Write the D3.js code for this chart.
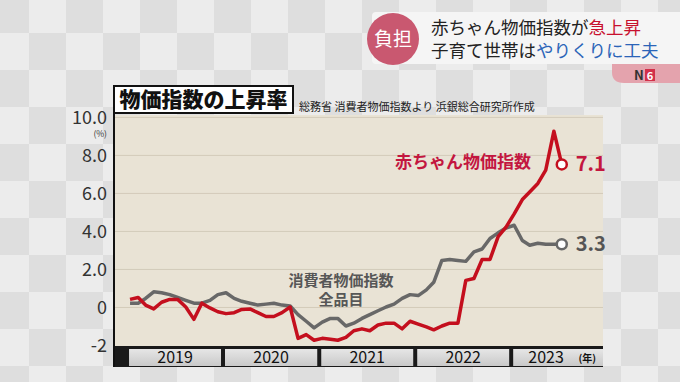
<!DOCTYPE html>
<html>
<head>
<meta charset="utf-8">
<script src="https://cdn.jsdelivr.net/npm/d3@7"></script>
<style>
  body { margin: 0; background: #e9e9e9; }
  text { font-family: "Noto Sans CJK JP", sans-serif; }
</style>
</head>
<body>
<script>
// year-over-year change (%), monthly from 2019-01 to 2023-07
const babyCpi = [
  0.4, 0.5, 0.1, -0.1, 0.25, 0.4, 0.4, 0.0, -0.65, 0.2, -0.05, -0.25,
  -0.35, -0.3, -0.13, -0.1, -0.3, -0.5, -0.5, -0.3, 0.0, -1.65, -1.45, -1.75,
  -1.65, -1.7, -1.75, -1.6, -1.25, -1.15, -1.25, -0.95, -0.85, -0.85, -1.15, -0.75,
  -0.9, -1.05, -1.2, -1.0, -0.85, -0.85, 1.4, 1.5, 2.5, 2.5, 3.7, 4.2,
  4.9, 5.65, 6.05, 6.5, 7.2, 9.25, 7.5
]
const allCpi = [
  0.2, 0.2, 0.45, 0.8, 0.75, 0.65, 0.5, 0.35, 0.2, 0.2, 0.35, 0.65,
  0.75, 0.45, 0.3, 0.2, 0.1, 0.15, 0.2, 0.1, 0.05, -0.4, -0.75, -1.1,
  -0.8, -0.6, -0.6, -1.0, -0.85, -0.6, -0.4, -0.2, 0.0, 0.15, 0.45, 0.65,
  0.6, 0.9, 1.3, 2.45, 2.5, 2.45, 2.4, 2.9, 3.05, 3.6, 3.9, 4.15,
  4.3, 3.5, 3.25, 3.35, 3.3, 3.3, 3.3
]
const years = [2019, 2020, 2021, 2022, 2023]
const yTicks = [-2, 0, 2, 4, 6, 8, 10]
const endLabels = ['7.1', '3.3']

const months = d3.timeMonth.range(new Date(2019, 0, 1), new Date(2019, 0 + babyCpi.length, 1))

const W = 680, H = 382
const plot = { left: 114, right: 603, top: 115, bottom: 346 }

const svg = d3.select('body').append('svg')
  .attr('width', W).attr('height', H)

// checker background
const defs = svg.append('defs')
const pat = defs.append('pattern')
  .attr('id', 'checker').attr('patternUnits', 'userSpaceOnUse')
  .attr('width', 74).attr('height', 74).attr('x', -8).attr('y', -4)
pat.append('rect').attr('width', 74).attr('height', 74).attr('fill', '#ececec')
pat.append('rect').attr('width', 37).attr('height', 37).attr('fill', '#dedede')
pat.append('rect').attr('x', 37).attr('y', 37).attr('width', 37).attr('height', 37).attr('fill', '#dedede')
svg.append('rect').attr('width', W).attr('height', H).attr('fill', 'url(#checker)')

// headline banner
const banner = svg.append('g')
banner.append('rect').attr('x', 372).attr('y', 12).attr('width', 320).attr('height', 52)
  .attr('rx', 4).attr('fill', '#f6f6f6').attr('opacity', 0.95)
banner.append('circle').attr('cx', 393).attr('cy', 39).attr('r', 26).attr('fill', '#c95870')
banner.append('text').attr('x', 393).attr('y', 46).attr('text-anchor', 'middle')
  .attr('fill', '#fff').attr('font-size', 19).text('負担')
const l1 = banner.append('text').attr('x', 431).attr('y', 34).attr('font-size', 17.5).attr('fill', '#222')
l1.append('tspan').text('赤ちゃん物価指数が')
l1.append('tspan').attr('fill', '#c8102e').text('急上昇')
const l2 = banner.append('text').attr('x', 431).attr('y', 57).attr('font-size', 17.5).attr('fill', '#222')
l2.append('tspan').text('子育て世帯は')
l2.append('tspan').attr('fill', '#2b64b8').text('やりくりに工夫')

// N6 tab
banner.append('path').attr('d', 'M612,64 L680,64 L680,83 L624,83 Q612,83 612,72 Z').attr('fill', '#e4a3ad')
banner.append('text').attr('x', 634).attr('y', 80).attr('font-size', 13).attr('font-weight', 700)
  .attr('fill', '#333').text('N')
banner.append('rect').attr('x', 645).attr('y', 69).attr('width', 10).attr('height', 12).attr('fill', '#d2304a')
banner.append('text').attr('x', 650).attr('y', 80).attr('text-anchor', 'middle').attr('font-size', 11)
  .attr('font-weight', 700).attr('fill', '#fff').text('6')

// scales
const x = d3.scaleTime()
  .domain([new Date(2018, 10, 1), new Date(2023, 11, 1)])
  .range([plot.left, plot.right - 1])
const y = d3.scaleLinear().domain([-2, 10.1]).range([345, 115])

// plot background
svg.append('rect').attr('x', plot.left).attr('y', plot.top)
  .attr('width', plot.right - plot.left).attr('height', plot.bottom - plot.top)
  .attr('fill', '#e9e3d5')

// grid
svg.append('g')
  .attr('transform', `translate(${plot.left},0)`)
  .call(d3.axisLeft(y).tickValues(yTicks.filter(v => v > -2)).tickSize(-(plot.right - plot.left)).tickFormat(''))
  .call(g => g.select('.domain').remove())
  .call(g => g.selectAll('line').attr('stroke', '#d3cbba').attr('stroke-width', 1))

// y labels
svg.append('g')
  .attr('transform', `translate(${plot.left - 7},0)`)
  .call(d3.axisLeft(y).tickValues(yTicks).tickSize(0).tickPadding(0)
    .tickFormat(v => v <= 0 ? String(v) : v.toFixed(1)))
  .call(g => g.select('.domain').remove())
  .call(g => g.selectAll('text')
    .attr('font-family', '"Liberation Sans Narrow", "Roboto", sans-serif')
    .attr('font-size', 18).attr('fill', '#333').attr('dy', '0.34em'))
svg.append('text').attr('x', plot.left - 7).attr('y', 137).attr('text-anchor', 'end')
  .attr('font-size', 8.5).attr('fill', '#333').text('(%)')

// year bar
const bar = svg.append('g')
bar.append('rect').attr('x', plot.left).attr('y', plot.bottom).attr('width', plot.right - plot.left)
  .attr('height', 21).attr('fill', '#1a1a1a')
const grad = defs.append('linearGradient').attr('id', 'yearGrad').attr('x1', 0).attr('x2', 0).attr('y1', 0).attr('y2', 1)
grad.append('stop').attr('offset', 0).attr('stop-color', '#e6e6e6')
grad.append('stop').attr('offset', 1).attr('stop-color', '#c9c9c9')
years.forEach(yr => {
  const x0 = x(new Date(yr, 0, 1)) - 1
  const x1 = Math.min(x(new Date(yr + 1, 0, 1)) - 5, plot.right)
  bar.append('rect').attr('x', x0).attr('y', plot.bottom + 3).attr('width', x1 - x0).attr('height', 17)
    .attr('fill', 'url(#yearGrad)')
  const last = yr === years[years.length - 1]
  bar.append('text').attr('x', (x0 + x1) / 2 - (last ? 12 : 0)).attr('y', plot.bottom + 17)
    .attr('text-anchor', 'middle').attr('font-family', '"Liberation Sans", sans-serif')
    .attr('font-size', 16).attr('fill', '#111').text(yr)
  if (last) {
    bar.append('text').attr('x', x1 - 7).attr('y', plot.bottom + 16).attr('text-anchor', 'end')
      .attr('font-size', 10).attr('font-weight', 700).attr('fill', '#111').text('(年)')
  }
})

// y axis line
svg.append('line').attr('x1', plot.left).attr('x2', plot.left).attr('y1', 100).attr('y2', 367)
  .attr('stroke', '#111').attr('stroke-width', 2)

// lines
const line = d3.line().x((d, i) => x(months[i])).y(d => y(d))
const series = [
  { data: allCpi, color: '#686868', label: endLabels[1], labelColor: '#555' },
  { data: babyCpi, color: '#c40f1e', label: endLabels[0], labelColor: '#c3163f' }
]
series.forEach(s => {
  svg.append('path').datum(s.data).attr('d', line).attr('fill', 'none')
    .attr('stroke', s.color).attr('stroke-width', 3.5).attr('stroke-linejoin', 'round')
  const n = s.data.length - 1
  svg.append('circle').attr('cx', x(months[n])).attr('cy', y(s.data[n])).attr('r', 5)
    .attr('fill', '#fff').attr('stroke', s.color).attr('stroke-width', 2.5)
  svg.append('text').attr('x', x(months[n]) + 14).attr('y', y(s.data[n]) + 7)
    .attr('font-family', 'Roboto, sans-serif').attr('font-weight', 700).attr('font-size', 20)
    .attr('fill', s.labelColor).text(s.label)
})

// annotations
svg.append('text').attr('x', 395).attr('y', 168).attr('font-size', 17).attr('font-weight', 700)
  .attr('fill', '#c3163f').text('赤ちゃん物価指数')
svg.append('text').attr('x', 341).attr('y', 286).attr('text-anchor', 'middle').attr('font-size', 15)
  .attr('font-weight', 700).attr('fill', '#575757').text('消費者物価指数')
svg.append('text').attr('x', 341).attr('y', 305).attr('text-anchor', 'middle').attr('font-size', 15)
  .attr('font-weight', 700).attr('fill', '#575757').text('全品目')

// title
svg.append('rect').attr('x', 114).attr('y', 86).attr('width', 179).attr('height', 27)
  .attr('fill', '#fff').attr('stroke', '#111').attr('stroke-width', 2)
svg.append('text').attr('x', 203.5).attr('y', 107).attr('text-anchor', 'middle')
  .attr('font-size', 21).attr('font-weight', 900).attr('fill', '#111').text('物価指数の上昇率')
svg.append('text').attr('x', 299).attr('y', 111).attr('font-size', 11).attr('fill', '#222')
  .text('総務省 消費者物価指数より 浜銀総合研究所作成')
</script>
</body>
</html>
